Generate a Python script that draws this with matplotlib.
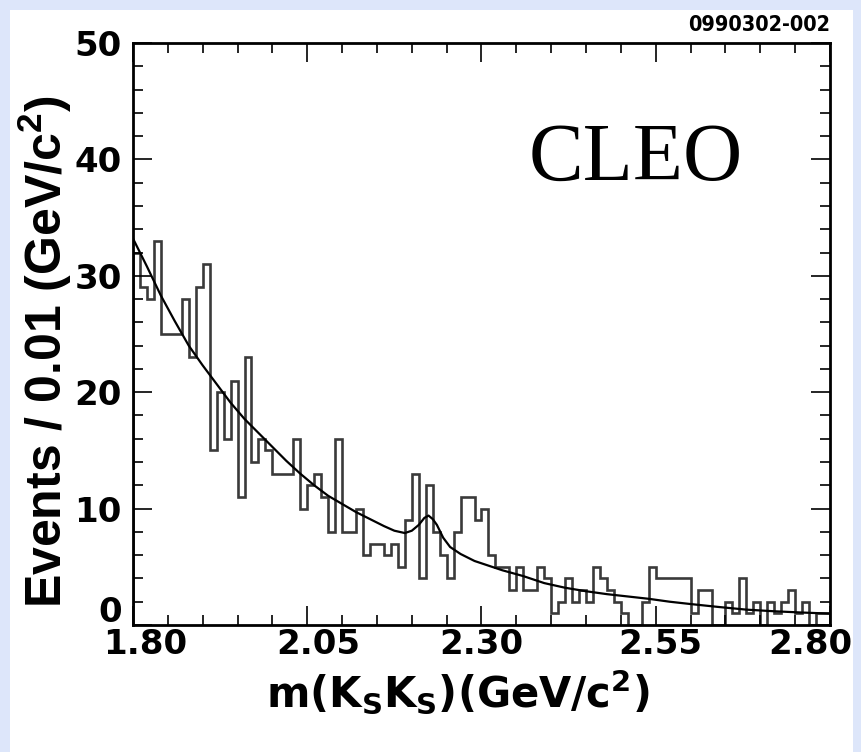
import numpy as np
import matplotlib
matplotlib.use("Agg")
import matplotlib.pyplot as plt
from matplotlib.ticker import MultipleLocator
from matplotlib.patches import Rectangle

# histogram: events per 0.01 GeV/c^2 bin, from 1.80 to 2.80
bin_lo = 1.80
bin_width = 0.01
counts = [32, 29, 28, 33, 25, 25, 25, 28, 23, 29,
          31, 15, 20, 16, 21, 11, 23, 14, 16, 15,
          13, 13, 13, 16, 10, 12, 13, 11, 8, 16,
          8, 8, 10, 6, 7, 7, 6, 7, 5, 9,
          13, 4, 12, 8, 6, 4, 8, 11, 11, 9,
          10, 6, 5, 5, 3, 5, 3, 3, 5, 4,
          1, 2, 4, 2, 3, 2, 5, 4, 3, 2,
          1, 0, 0, 2, 5, 4, 4, 4, 4, 4,
          1, 3, 3, 0, 0, 2, 1, 4, 1, 2,
          0, 2, 1, 2, 3, 1, 2, 0, 1, 1]

# fit curve
fit_m = [1.800, 1.820, 1.840, 1.860, 1.880, 1.900, 1.920, 1.940, 1.960, 1.980,
         2.000, 2.020, 2.040, 2.060, 2.080, 2.100, 2.120, 2.140, 2.160, 2.175,
         2.190, 2.200, 2.210, 2.218, 2.224, 2.230, 2.236, 2.245, 2.255, 2.270,
         2.290, 2.310, 2.330, 2.360, 2.390, 2.420, 2.450, 2.480, 2.510, 2.540,
         2.570, 2.600, 2.640, 2.680, 2.720, 2.760, 2.800]
fit_v = [33.2, 30.8, 28.3, 26.1, 24.0, 22.3, 20.7, 19.1, 17.7, 16.5,
         15.3, 14.1, 13.0, 12.0, 11.1, 10.4, 9.7, 9.1, 8.5, 8.1,
         7.9, 8.1, 8.6, 9.2, 9.4, 9.1, 8.6, 7.5, 6.7, 6.1,
         5.5, 5.1, 4.7, 4.2, 3.6, 3.2, 2.9, 2.65, 2.45, 2.25,
         2.0, 1.8, 1.55, 1.32, 1.18, 1.07, 0.98]

xticks = [1.80, 2.05, 2.30, 2.55, 2.80]
xticklabels = ['1.80', '2.05', '2.30', '2.55', '2.80']
yticks = [0, 10, 20, 30, 40, 50]
yticklabels = ['0', '10', '20', '30', '40', '50']

plt.rcParams['font.family'] = ['Liberation Sans', 'DejaVu Sans']
plt.rcParams['font.weight'] = 'bold'
plt.rcParams['mathtext.fontset'] = 'custom'
plt.rcParams['mathtext.rm'] = 'DejaVu Sans:bold'
plt.rcParams['mathtext.bf'] = 'DejaVu Sans:bold'
plt.rcParams['mathtext.sf'] = 'Liberation Sans:bold'
plt.rcParams['mathtext.default'] = 'bf'

W, H = 862, 752
fig = plt.figure(figsize=(W / 100, H / 100), dpi=100, facecolor='#dde6fa')
# white slide panel behind everything
panel = Rectangle((10 / W, 0), (W - 19) / W, (H - 10) / H,
                  transform=fig.transFigure, facecolor='white',
                  edgecolor='none', zorder=-10)
fig.add_artist(panel)

ax = fig.add_axes([133 / W, 1 - 625 / H, 697 / W, 582 / H])
ax.set_zorder(1)

edges = bin_lo + bin_width * np.arange(len(counts) + 1)
ax.stairs(counts, edges, color='#3a3a3a', lw=1.9)
ax.plot(fit_m, fit_v, color='black', lw=1.6)

ax.set_xlim(1.80, 2.80)
ax.set_ylim(0, 50)
ax.set_xticks(xticks)
ax.xaxis.set_minor_locator(MultipleLocator(0.05))
ax.set_yticks(yticks)
ax.yaxis.set_minor_locator(MultipleLocator(2))

ax.tick_params(which='both', direction='in', top=True, right=True,
               labelbottom=False, labelleft=False, width=1.2)
ax.tick_params(which='major', length=14)
ax.tick_params(which='minor', length=7)
for s in ax.spines.values():
    s.set_linewidth(2)

# tick labels placed like the original (ROOT nudges the end labels)
px = 72 / 100
x_shift = [12, 11, 0, 5, -20]
for t, lab, dx in zip(xticks, xticklabels, x_shift):
    ax.annotate(lab, xy=(t, 0), xycoords=('data', 'axes fraction'),
                xytext=(dx * px, -3 * px), textcoords='offset points',
                ha='center', va='top', fontsize=24.5, fontweight='bold',
                family='DejaVu Sans')
y_shift = [16, 0, 0, 0, 0, 0]
for t, lab, dy in zip(yticks, yticklabels, y_shift):
    ax.annotate(lab, xy=(0, t), xycoords=('axes fraction', 'data'),
                xytext=(-11 * px, dy * px), textcoords='offset points',
                ha='right', va='center_baseline', fontsize=24.5,
                fontweight='bold', family='DejaVu Sans')

fig.text(458 / W, 1 - 692 / H,
         r'm(K$_\mathbf{S}$K$_\mathbf{S}$)(GeV/c$^\mathbf{2}$)',
         ha='center', va='center', fontsize=30, fontweight='bold',
         family='DejaVu Sans')
fig.text(45 / W, 1 - 352 / H, r'Events / 0.01 (GeV/c$^\mathsf{2}$)',
         ha='center', va='center', rotation=90, fontsize=36,
         fontweight='bold')

fig.text(636 / W, 1 - 180 / H, 'CLEO', ha='center', va='baseline',
         fontsize=59, fontweight='normal', family='Liberation Serif')
fig.text(830 / W, 1 - 25 / H, '0990302-002', ha='right', va='center',
         fontsize=15.5, fontweight='bold', family='DejaVu Sans',
         fontstretch='condensed')

fig.savefig('out.png', dpi=100, facecolor=fig.get_facecolor())
